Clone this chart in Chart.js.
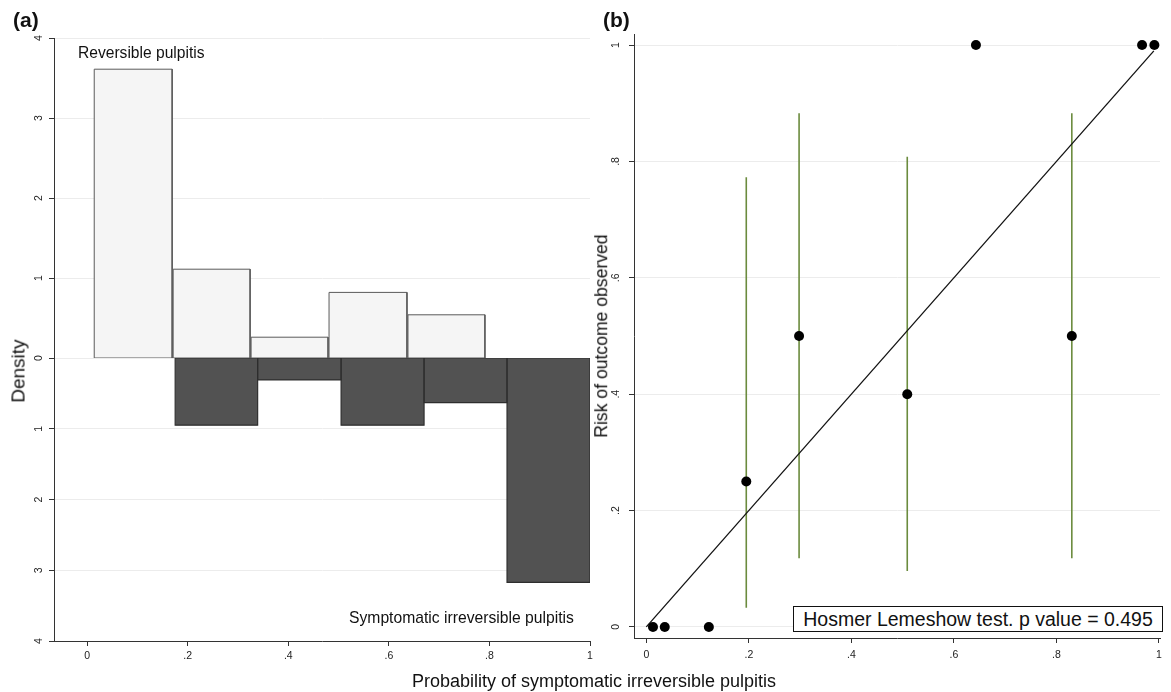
<!DOCTYPE html>
<html><head><meta charset="utf-8">
<script src="https://cdn.jsdelivr.net/npm/chart.js@4.4.1/dist/chart.umd.min.js"></script>
<style>
html,body{margin:0;padding:0;background:#fff}
body{width:1171px;height:692px;position:relative;overflow:hidden;font-family:"Liberation Sans",Arial,sans-serif;color:#111}
canvas{position:absolute;top:0}
#ca{left:0}
#cb{left:590px}
.t{position:absolute;white-space:nowrap;line-height:1}
.c{transform:translate(-50%,-50%)}
.r{transform:translate(-50%,-50%) rotate(-90deg)}
#hl{position:absolute;left:793px;top:606px;width:368px;height:24px;border:1px solid #111;background:#fff;font-size:19.5px;line-height:25px;text-align:center;white-space:nowrap}
</style></head><body>
<canvas id="ca" width="600" height="692"></canvas>
<canvas id="cb" width="581" height="692"></canvas>
<div class="t" style="left:13px;top:9px;font-size:21px;font-weight:bold">(a)</div>
<div class="t" style="left:603px;top:9px;font-size:21px;font-weight:bold">(b)</div>
<div class="t r" style="left:18px;top:371px;font-size:19px">Density</div>
<div class="t r" style="left:602px;top:336px;font-size:17.6px">Risk of outcome observed</div>
<div class="t" style="left:78px;top:45px;font-size:15.6px">Reversible pulpitis</div>
<div class="t" style="left:349px;top:610px;font-size:15.7px">Symptomatic irreversible pulpitis</div>
<div class="t c" style="left:594px;top:681px;font-size:18px">Probability of symptomatic irreversible pulpitis</div>
<div id="hl">Hosmer Lemeshow test. p value = 0.495</div>
<script>
// ---- Panel (a): histogram data ----
const revLo = [0.014, 0.171, 0.326, 0.481, 0.638];
const revHi = [0.169, 0.324, 0.479, 0.636, 0.791];
const revDensity = [3.61, 1.11, 0.26, 0.82, 0.54];
const sipLo = [0.175, 0.339, 0.505, 0.670, 0.835];
const sipHi = [0.339, 0.505, 0.670, 0.835, 1.000];
const sipDensity = [0.95, 0.31, 0.95, 0.63, 3.17];
const densTicks = [0, 1, 2, 3, 4];
const densTickLabels = ['0', '1', '2', '3', '4'];
const probTicks = [0, 0.2, 0.4, 0.6, 0.8, 1];
const probTickLabels = ['0', '.2', '.4', '.6', '.8', '1'];

// ---- Panel (b): calibration data ----
const predicted = [0.013, 0.036, 0.122, 0.195, 0.298, 0.509, 0.643, 0.830, 0.967, 0.991];
const observed  = [0, 0, 0, 0.25, 0.5, 0.4, 1, 0.5, 1, 1];
const ciX    = [0.195, 0.298, 0.509, 0.830];
const ciLow  = [0.033, 0.118, 0.096, 0.118];
const ciHigh = [0.773, 0.883, 0.808, 0.883];
const refLineX = [0, 0.99];
const refLineY = [0, 0.99];

const FONT = {family: '"Liberation Sans", Arial, sans-serif', size: 10.5};
const TXT = '#222';
const AX = '#333';
const GRID = '#ececec';

function rects(lo, hi, dens, yAxisID, fill, stroke, bw) {
  const out = [];
  lo.forEach((x0, i) => {
    // filled body (drawn first)
    out.push({
      yAxisID: yAxisID, xAxisID: 'x', order: 2,
      data: [{x: x0, y: 0}, {x: x0, y: dens[i]}, {x: hi[i], y: dens[i]}, {x: hi[i], y: 0}],
      backgroundColor: fill, borderWidth: 0, borderColor: 'rgba(0,0,0,0)',
      fill: 'origin', pointRadius: 0, tension: 0
    });
    // outline (drawn on top)
    out.push({
      yAxisID: yAxisID, xAxisID: 'x', order: 1,
      data: [{x: x0, y: 0}, {x: x0, y: dens[i]}, {x: hi[i], y: dens[i]}, {x: hi[i], y: 0}, {x: x0, y: 0}],
      borderColor: stroke, borderWidth: bw, fill: false, pointRadius: 0, tension: 0,
      borderJoinStyle: 'miter'
    });
  });
  return out;
}
function setTicks(values) {
  return function (scale) { scale.ticks = values.map(v => ({value: v})); };
}
function yScale(extra) {
  return Object.assign({
    type: 'linear', position: 'left', min: 0, max: 4,
    border: {display: true, color: AX, width: 1},
    grid: {color: GRID, lineWidth: 1, tickLength: 5, tickColor: AX, drawTicks: true},
    ticks: {font: FONT, color: TXT, minRotation: 90, maxRotation: 90, padding: 7, crossAlign: 'center',
            callback: (v) => densTickLabels[densTicks.indexOf(v)]},
    afterFit: (s) => { s.width = 54; }
  }, extra);
}

new Chart(document.getElementById('ca'), {
  type: 'line',
  data: {datasets: [
    ...rects(revLo, revHi, revDensity, 'yTop', '#f5f5f5', '#5a5a5a', 1),
    ...rects(sipLo, sipHi, sipDensity, 'yBot', '#525252', '#2e2e2e', 1.2)
  ]},
  options: {
    responsive: false, animation: false,
    layout: {padding: {top: 38, right: 10, left: 0, bottom: 0}},
    plugins: {legend: {display: false}, tooltip: {enabled: false}},
    scales: {
      x: {type: 'linear', position: 'bottom', min: -0.066, max: 1,
          border: {display: true, color: AX, width: 1},
          grid: {drawOnChartArea: false, tickLength: 5, tickColor: AX},
          afterBuildTicks: setTicks(probTicks),
          ticks: {font: FONT, color: TXT, padding: 4, maxRotation: 0,
                  callback: (v) => probTickLabels[probTicks.indexOf(v)]},
          afterFit: (s) => { s.height = 51; }},
      yBot: yScale({stack: 'dens', stackWeight: 283, reverse: true, weight: 0,
                    afterBuildTicks: setTicks(densTicks.slice(1))}),
      yTop: yScale({stack: 'dens', stackWeight: 320, weight: 1,
                    afterBuildTicks: setTicks(densTicks)})
    }
  }
});

const ciSets = ciX.map((x, i) => ({
  data: [{x: x, y: ciLow[i]}, {x: x, y: ciHigh[i]}],
  showLine: true, borderColor: '#6b8b3e', borderWidth: 1.6, pointRadius: 0, order: 2
}));

new Chart(document.getElementById('cb'), {
  type: 'scatter',
  data: {datasets: [
    {data: predicted.map((p, i) => ({x: p, y: observed[i]})),
     backgroundColor: '#000', borderColor: '#000', pointRadius: 5, borderWidth: 0, order: 0},
    {data: refLineX.map((x, i) => ({x: x, y: refLineY[i]})),
     showLine: true, borderColor: '#111', borderWidth: 1.3, pointRadius: 0, order: 1},
    ...ciSets
  ]},
  options: {
    responsive: false, animation: false,
    layout: {padding: {top: 34, right: 11, left: 0, bottom: 0}},
    plugins: {legend: {display: false}, tooltip: {enabled: false}},
    scales: {
      x: {type: 'linear', position: 'bottom', min: -0.024, max: 1.002,
          border: {display: true, color: AX, width: 1},
          grid: {drawOnChartArea: false, tickLength: 5, tickColor: AX},
          afterBuildTicks: setTicks(probTicks),
          ticks: {font: FONT, color: TXT, padding: 6, maxRotation: 0,
                  callback: (v) => probTickLabels[probTicks.indexOf(v)]},
          afterFit: (s) => { s.height = 54; }},
      y: {type: 'linear', position: 'left', min: -0.019, max: 1.019,
          border: {display: true, color: AX, width: 1},
          grid: {color: GRID, lineWidth: 1, tickLength: 5, tickColor: AX},
          afterBuildTicks: setTicks(probTicks),
          ticks: {font: FONT, color: TXT, minRotation: 90, maxRotation: 90, padding: 9, crossAlign: 'center',
                  callback: (v) => probTickLabels[probTicks.indexOf(v)]},
          afterFit: (s) => { s.width = 44; }}
    }
  }
});
</script>
</body></html>
